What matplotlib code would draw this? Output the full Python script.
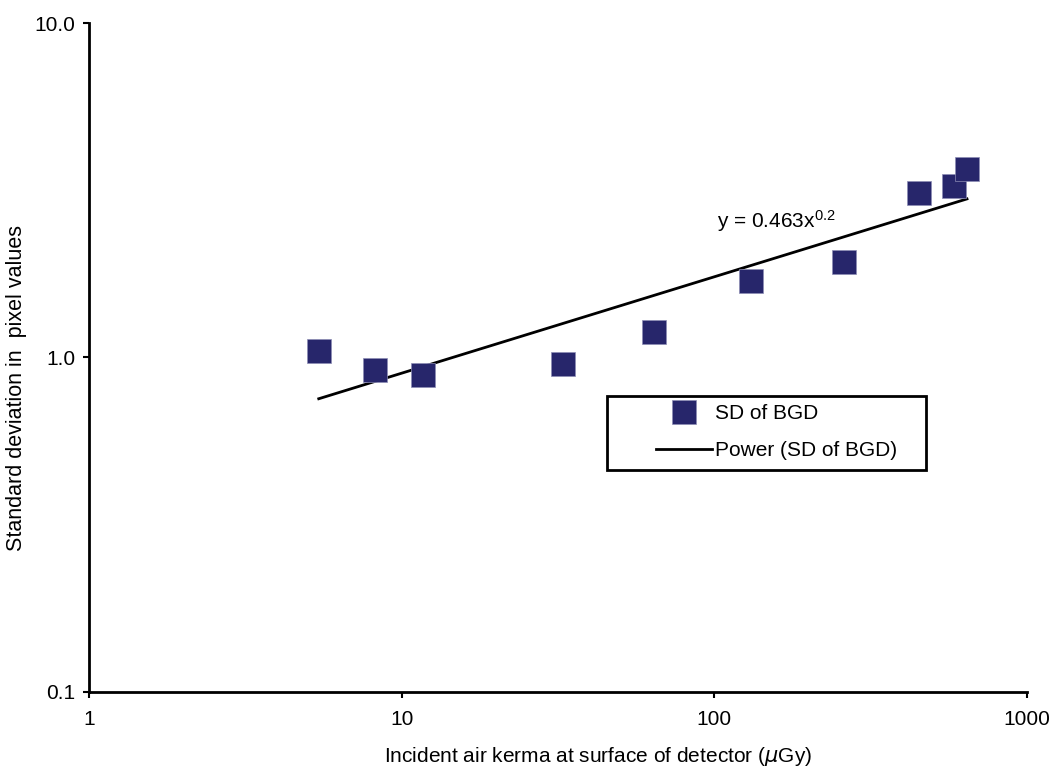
import numpy as np
import matplotlib
matplotlib.use("Agg")
import matplotlib.pyplot as plt
from matplotlib.patches import Rectangle
from matplotlib.ticker import FixedLocator, FixedFormatter, NullLocator

plt.rcParams['font.family'] = ['Liberation Sans', 'DejaVu Sans']
plt.rcParams['mathtext.default'] = 'regular'

# incident air kerma (uGy) and SD of background pixel values
kerma = [5.43, 8.2, 11.7, 32.7, 64.3, 131, 260, 452, 584, 643]
sd_bgd = [1.045, 0.918, 0.887, 0.956, 1.19, 1.69, 1.93, 3.10, 3.26, 3.66]

x_ticks = [1, 10, 100, 1000]
x_ticklabels = ["1", "10", "100", "1000"]
y_ticks = [0.1, 1.0, 10.0]
y_ticklabels = ["0.1", "1.0", "10.0"]

# power-law trendline fitted in log-log space
b, log_a = np.polyfit(np.log10(kerma), np.log10(sd_bgd), 1)
x_fit = np.logspace(np.log10(min(kerma)), np.log10(max(kerma)), 100)
y_fit = 10 ** log_a * x_fit ** b

fig = plt.figure(figsize=(10.56, 7.67), dpi=100)
ax = fig.add_axes([0.0843, 0.0978, 0.8882, 0.8722])

navy = '#27266b'
ax.plot(kerma, sd_bgd, linestyle='none', marker='s', markersize=17,
        markerfacecolor=navy, markeredgecolor='#8d8db5', markeredgewidth=0.5,
        label='SD of BGD', zorder=3)
ax.plot(x_fit, y_fit, color='black', linewidth=2, label='Power (SD of BGD)', zorder=2)

ax.set_xscale('log')
ax.set_yscale('log')
ax.set_xlim(1, 1000)
ax.set_ylim(0.1, 10)

ax.xaxis.set_major_locator(FixedLocator(x_ticks))
ax.xaxis.set_major_formatter(FixedFormatter(x_ticklabels))
ax.xaxis.set_minor_locator(NullLocator())
ax.yaxis.set_major_locator(FixedLocator(y_ticks))
ax.yaxis.set_major_formatter(FixedFormatter(y_ticklabels))
ax.yaxis.set_minor_locator(NullLocator())
ax.tick_params(axis='both', direction='out', length=4, width=1.5, labelsize=15)
ax.tick_params(axis='x', pad=9)
ax.tick_params(axis='y', pad=6)

for side in ('top', 'right'):
    ax.spines[side].set_visible(False)
for side in ('left', 'bottom'):
    ax.spines[side].set_linewidth(2)

ax.set_xlabel('Incident air kerma at surface of detector ($\\mathit{\\mu}$Gy)', fontsize=15)
ax.set_ylabel('Standard deviation in  pixel values', fontsize=15.5)
ax.xaxis.set_label_coords(0.5426, -0.079)
ax.yaxis.set_label_coords(-0.0661, 0.4544)

ax.text(102, 2.44, 'y = 0.463x$^{0.2}$', fontsize=15, va='baseline', ha='left')

leg = ax.legend(loc='upper left', bbox_to_anchor=(0.6045, 0.430), frameon=False,
                fontsize=15, borderpad=0, borderaxespad=0, handlelength=2.7,
                handletextpad=0.15, labelspacing=0.85)
ax.add_patch(Rectangle((0.552, 0.332), 0.340, 0.1105, transform=ax.transAxes,
                       fill=False, edgecolor='black', linewidth=2, clip_on=False))

fig.savefig('out.png', dpi=100)
